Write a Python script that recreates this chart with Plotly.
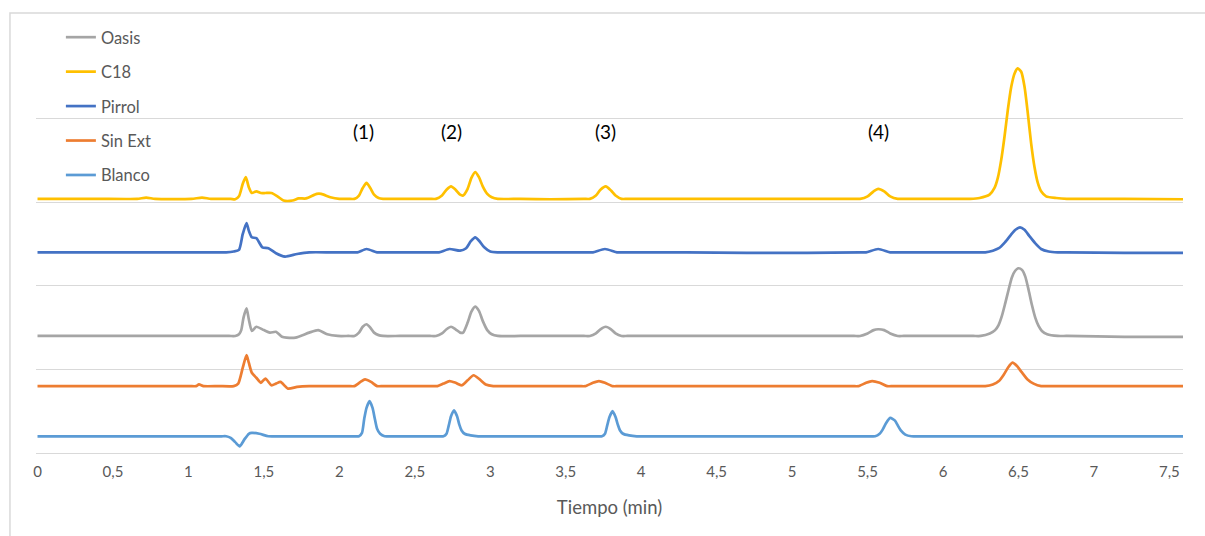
import plotly.graph_objects as go

# Time (min), signal (arbitrary units; one gridline = 1)
oasis = [(0, 1.40), (0.40, 1.40), (0.80, 1.40), (1.10, 1.40), (1.27, 1.40), (1.31, 1.40),
         (1.335, 1.42), (1.35, 1.47), (1.365, 1.62), (1.385, 1.73), (1.40, 1.60), (1.42, 1.46),
         (1.45, 1.51), (1.50, 1.47), (1.54, 1.44), (1.58, 1.45), (1.62, 1.39), (1.65, 1.38),
         (1.71, 1.38), (1.80, 1.44), (1.86, 1.47), (1.92, 1.42), (1.99, 1.40), (2.06, 1.40),
         (2.10, 1.40), (2.13, 1.44), (2.155, 1.51), (2.18, 1.54), (2.205, 1.50), (2.23, 1.44),
         (2.26, 1.41), (2.29, 1.40), (2.40, 1.40), (2.52, 1.40), (2.60, 1.40), (2.64, 1.40),
         (2.68, 1.43), (2.71, 1.48), (2.74, 1.51), (2.77, 1.48), (2.80, 1.44), (2.82, 1.44),
         (2.85, 1.56), (2.875, 1.69), (2.90, 1.75), (2.925, 1.70), (2.95, 1.58), (2.98, 1.47),
         (3.01, 1.42), (3.05, 1.40), (3.20, 1.40), (3.40, 1.40), (3.62, 1.40), (3.66, 1.40),
         (3.70, 1.43), (3.73, 1.48), (3.765, 1.51), (3.80, 1.48), (3.83, 1.43), (3.87, 1.40),
         (3.91, 1.40), (4.30, 1.40), (4.70, 1.40), (5.10, 1.40), (5.41, 1.40), (5.45, 1.40),
         (5.50, 1.43), (5.54, 1.47), (5.57, 1.48), (5.61, 1.47), (5.65, 1.43), (5.70, 1.40),
         (5.74, 1.40), (6.00, 1.40), (6.20, 1.40), (6.25, 1.40), (6.31, 1.43), (6.345, 1.47),
         (6.368, 1.53), (6.39, 1.64), (6.412, 1.79), (6.434, 1.95), (6.456, 2.10), (6.478, 2.18),
         (6.50, 2.21), (6.523, 2.19), (6.545, 2.11), (6.567, 1.95), (6.589, 1.77), (6.611, 1.62),
         (6.633, 1.52), (6.655, 1.46), (6.69, 1.42), (6.76, 1.40), (6.82, 1.40), (7.20, 1.39),
         (7.59, 1.39)]

c18 = [(0, 3.04), (0.40, 3.04), (0.66, 3.04), (0.72, 3.055), (0.78, 3.04), (1.02, 3.04),
       (1.09, 3.055), (1.15, 3.04), (1.28, 3.04), (1.31, 3.035), (1.335, 3.07), (1.36, 3.22),
       (1.38, 3.30), (1.40, 3.18), (1.42, 3.11), (1.45, 3.13), (1.48, 3.11), (1.51, 3.11),
       (1.55, 3.11), (1.59, 3.07), (1.63, 3.02), (1.69, 3.02), (1.73, 3.045), (1.78, 3.045),
       (1.85, 3.10), (1.88, 3.10), (1.94, 3.06), (2.00, 3.04), (2.06, 3.04), (2.10, 3.04),
       (2.13, 3.08), (2.155, 3.17), (2.18, 3.23), (2.205, 3.17), (2.23, 3.09), (2.26, 3.05),
       (2.29, 3.04), (2.40, 3.04), (2.52, 3.04), (2.60, 3.04), (2.64, 3.04), (2.68, 3.08),
       (2.71, 3.15), (2.74, 3.19), (2.77, 3.15), (2.80, 3.09), (2.82, 3.08), (2.85, 3.16),
       (2.875, 3.29), (2.90, 3.36), (2.925, 3.30), (2.95, 3.19), (2.98, 3.10), (3.01, 3.06),
       (3.05, 3.04), (3.20, 3.04), (3.40, 3.035), (3.62, 3.04), (3.66, 3.04), (3.70, 3.08),
       (3.73, 3.15), (3.765, 3.19), (3.80, 3.14), (3.83, 3.08), (3.87, 3.04), (3.91, 3.04),
       (4.30, 3.04), (4.70, 3.04), (5.10, 3.04), (5.41, 3.04), (5.45, 3.04), (5.50, 3.07),
       (5.54, 3.13), (5.57, 3.16), (5.61, 3.13), (5.65, 3.07), (5.70, 3.04), (5.74, 3.04),
       (6.00, 3.04), (6.18, 3.04), (6.242, 3.05), (6.308, 3.09), (6.341, 3.17), (6.363, 3.29),
       (6.385, 3.50), (6.407, 3.78), (6.429, 4.10), (6.452, 4.38), (6.474, 4.54), (6.495, 4.60),
       (6.518, 4.56), (6.540, 4.38), (6.562, 4.06), (6.584, 3.70), (6.606, 3.42), (6.628, 3.23),
       (6.650, 3.13), (6.683, 3.07), (6.750, 3.05), (6.82, 3.04), (7.20, 3.04), (7.59, 3.035)]

pirrol = [(0, 2.40), (0.40, 2.40), (0.80, 2.40), (1.10, 2.40), (1.25, 2.40), (1.30, 2.41),
          (1.335, 2.43), (1.36, 2.62), (1.385, 2.75), (1.40, 2.66), (1.42, 2.58), (1.45, 2.57),
          (1.49, 2.46), (1.53, 2.45), (1.58, 2.39), (1.64, 2.35), (1.72, 2.38), (1.80, 2.40),
          (1.95, 2.40), (2.08, 2.40), (2.12, 2.40), (2.18, 2.44), (2.25, 2.40), (2.29, 2.40),
          (2.45, 2.40), (2.62, 2.40), (2.66, 2.40), (2.73, 2.44), (2.80, 2.42), (2.84, 2.45),
          (2.87, 2.53), (2.90, 2.58), (2.93, 2.53), (2.96, 2.46), (3.00, 2.41), (3.05, 2.40),
          (3.20, 2.40), (3.40, 2.40), (3.64, 2.40), (3.68, 2.40), (3.76, 2.44), (3.84, 2.40),
          (3.88, 2.40), (4.30, 2.40), (4.70, 2.395), (5.10, 2.395), (5.45, 2.40), (5.49, 2.40),
          (5.57, 2.44), (5.65, 2.40), (5.69, 2.40), (6.00, 2.40), (6.22, 2.40), (6.28, 2.40),
          (6.33, 2.42), (6.37, 2.45), (6.41, 2.52), (6.45, 2.61), (6.48, 2.67), (6.51, 2.70),
          (6.54, 2.67), (6.57, 2.60), (6.61, 2.51), (6.65, 2.44), (6.70, 2.41), (6.76, 2.40),
          (6.82, 2.40), (7.20, 2.395), (7.59, 2.395)]

sin_ext = [(0, 0.80), (0.40, 0.80), (0.80, 0.80), (1.01, 0.80), (1.05, 0.80), (1.07, 0.82),
           (1.10, 0.80), (1.20, 0.80), (1.30, 0.80), (1.33, 0.83), (1.36, 1.02), (1.385, 1.17),
           (1.40, 1.08), (1.42, 0.96), (1.45, 0.90), (1.48, 0.84), (1.51, 0.89), (1.55, 0.81),
           (1.58, 0.83), (1.61, 0.85), (1.66, 0.77), (1.72, 0.79), (1.80, 0.80), (1.95, 0.80),
           (2.06, 0.80), (2.10, 0.80), (2.14, 0.85), (2.17, 0.88), (2.21, 0.85), (2.25, 0.80),
           (2.29, 0.80), (2.45, 0.80), (2.61, 0.80), (2.65, 0.80), (2.69, 0.83), (2.73, 0.86),
           (2.77, 0.84), (2.81, 0.81), (2.85, 0.87), (2.89, 0.93), (2.93, 0.88), (2.97, 0.82),
           (3.02, 0.80), (3.06, 0.80), (3.30, 0.80), (3.59, 0.80), (3.63, 0.80), (3.68, 0.84),
           (3.72, 0.86), (3.76, 0.84), (3.81, 0.80), (3.85, 0.80), (4.30, 0.80), (4.70, 0.80),
           (5.10, 0.80), (5.40, 0.80), (5.44, 0.80), (5.49, 0.84), (5.53, 0.86), (5.58, 0.84),
           (5.63, 0.80), (5.67, 0.80), (6.00, 0.80), (6.22, 0.80), (6.28, 0.80), (6.33, 0.82),
           (6.37, 0.86), (6.40, 0.93), (6.43, 1.02), (6.46, 1.08), (6.49, 1.04), (6.52, 0.97),
           (6.56, 0.88), (6.60, 0.83), (6.65, 0.80), (6.70, 0.80), (7.20, 0.80), (7.59, 0.80)]

blanco = [(0, 0.20), (0.40, 0.20), (0.80, 0.20), (1.10, 0.20), (1.22, 0.20), (1.25, 0.20),
          (1.28, 0.18), (1.31, 0.13), (1.34, 0.08), (1.37, 0.16), (1.40, 0.23), (1.42, 0.24),
          (1.47, 0.23), (1.53, 0.20), (1.60, 0.20), (1.80, 0.20), (2.00, 0.20), (2.09, 0.20),
          (2.13, 0.20), (2.15, 0.24), (2.165, 0.41), (2.18, 0.54), (2.20, 0.62), (2.22, 0.54),
          (2.235, 0.41), (2.25, 0.29), (2.27, 0.23), (2.30, 0.20), (2.34, 0.20), (2.50, 0.20),
          (2.65, 0.20), (2.69, 0.20), (2.71, 0.23), (2.725, 0.33), (2.74, 0.44), (2.76, 0.51),
          (2.78, 0.44), (2.795, 0.34), (2.81, 0.27), (2.83, 0.23), (2.87, 0.21), (2.92, 0.20),
          (2.97, 0.20), (3.20, 0.20), (3.50, 0.20), (3.70, 0.20), (3.74, 0.20), (3.76, 0.23),
          (3.775, 0.33), (3.79, 0.43), (3.81, 0.50), (3.83, 0.43), (3.845, 0.34), (3.86, 0.27),
          (3.88, 0.23), (3.92, 0.21), (3.97, 0.20), (4.02, 0.20), (4.40, 0.20), (4.80, 0.20),
          (5.20, 0.20), (5.51, 0.20), (5.55, 0.20), (5.58, 0.23), (5.60, 0.28), (5.62, 0.35),
          (5.65, 0.42), (5.68, 0.39), (5.70, 0.33), (5.72, 0.27), (5.75, 0.22), (5.79, 0.20),
          (5.84, 0.20), (6.20, 0.20), (6.60, 0.20), (7.00, 0.20), (7.59, 0.20)]

series_names = ["Oasis", "C18", "Pirrol", "Sin Ext", "Blanco"]
series_data = [oasis, c18, pirrol, sin_ext, blanco]
series_colors = ["#A5A5A5", "#FFC000", "#4472C4", "#ED7D31", "#5B9BD5"]

peak_labels = ["(1)", "(2)", "(3)", "(4)"]
peak_label_t = [2.16, 2.74, 3.765, 5.57]
peak_label_y = [3.84, 3.84, 3.84, 3.84]

FONT = "Lato"
GREY = "#595959"

fig = go.Figure()
for name, data, color in zip(series_names, series_data, series_colors):
    fig.add_trace(go.Scatter(
        x=[p[0] for p in data], y=[p[1] for p in data], name=name, mode="lines",
        line=dict(color=color, width=2.7, shape="spline", smoothing=0.6),
        legendgroup=name,
    ))

for lab, t, y in zip(peak_labels, peak_label_t, peak_label_y):
    fig.add_annotation(x=t, y=y, text=lab, showarrow=False,
                       font=dict(family=FONT, size=19, color="#000000"))

fig.update_layout(
    width=1205, height=536,
    margin=dict(l=36, r=22, t=35, b=83),
    paper_bgcolor="white", plot_bgcolor="white",
    separators=",.",
    showlegend=True,
    legend=dict(x=0.0217, y=1.036, xanchor="left", yanchor="top",
                bgcolor="rgba(0,0,0,0)", font=dict(family=FONT, size=16.5, color=GREY),
                tracegroupgap=10, traceorder="grouped"),
    xaxis=dict(range=[-0.01, 7.59], dtick=0.5, tick0=0, showgrid=False,
               showline=True, linecolor="#D9D9D9", linewidth=1,
               ticks="outside", ticklen=5, tickcolor="rgba(0,0,0,0)",
               tickfont=dict(family=FONT, size=15, color=GREY),
               title=dict(text="Tiempo (min)", font=dict(family=FONT, size=18.5, color=GREY),
                          standoff=22),
               zeroline=False),
    yaxis=dict(range=[0, 5], dtick=1, showticklabels=False, showgrid=True,
               gridcolor="#D9D9D9", gridwidth=1, zeroline=False, ticks=""),
)

# outer chart border
fig.add_shape(type="rect", xref="paper", yref="paper",
              x0=-0.0227, x1=1.03, y0=-0.25, y1=1.0526,
              line=dict(color="#D9D9D9", width=1.5), layer="below")

fig.write_html("out.html")
